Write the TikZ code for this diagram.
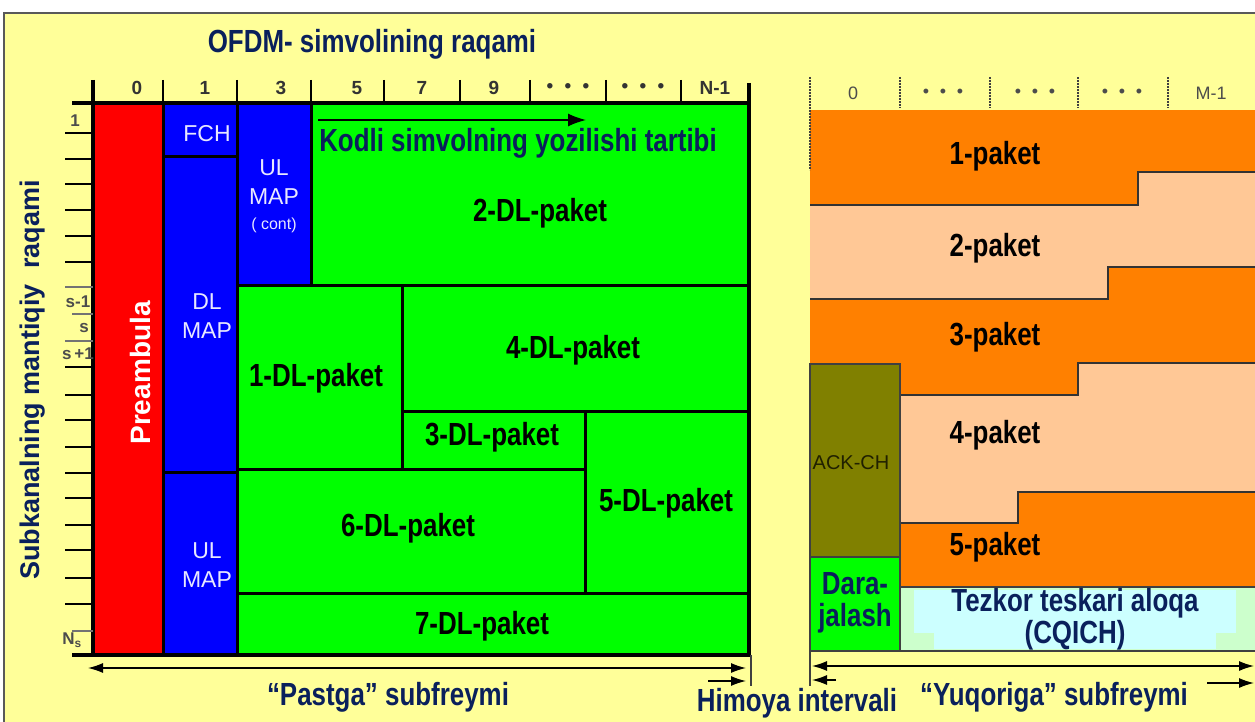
\documentclass[tikz,border=0pt]{standalone}
\usepackage{fontspec}
\setmainfont{Liberation Sans}
\newfontfamily\narrowsans[FakeStretch=0.81]{Liberation Sans}
\usetikzlibrary{arrows.meta}
\definecolor{bgyellow}{RGB}{255,255,153}
\definecolor{txtnavy}{RGB}{10,32,92}
\definecolor{prered}{RGB}{255,0,0}
\definecolor{mapblue}{RGB}{0,0,255}
\definecolor{maptext}{RGB}{232,232,255}
\definecolor{dlgreen}{RGB}{0,255,0}
\definecolor{pktorange}{RGB}{255,128,0}
\definecolor{pktpeach}{RGB}{255,200,150}
\definecolor{ackolive}{RGB}{128,128,0}
\definecolor{cqgreen}{RGB}{204,255,204}
\definecolor{cqcyan}{RGB}{204,255,255}
\newcommand{\tridots}{\textbullet\hspace{0.6em}\textbullet\hspace{0.6em}\textbullet}

\begin{document}
\begin{tikzpicture}[x=1pt, y=-1pt, >={Latex[length=15pt,width=10pt]},
  pkt/.style={font=\narrowsans\bfseries\fontsize{32}{32}\selectfont, text=black, align=center},
  navytxt/.style={pkt, text=txtnavy},
  maptxt/.style={font=\fontsize{23}{29}\selectfont, text=maptext, align=center},
  hdr/.style={font=\bfseries\fontsize{19}{19}\selectfont, text=black!80},
  rhdr/.style={font=\fontsize{18}{18}\selectfont, text=black!70},
  ticklbl/.style={font=\bfseries\fontsize{17}{17}\selectfont, text=black!70},
  tickln/.style={line width=1.5pt},
  blk/.style={draw=black, line width=3pt},
  stepln/.style={draw=black!80, line width=1.6pt},
  thinln/.style={draw=black!75, line width=1.2pt}]
\clip (0,0) rectangle (1255,722);
\fill[white] (0,0) rectangle (1255,722);
\draw[fill=bgyellow, draw=gray!70!black, line width=2pt] (4,13) rectangle (1275,745);

% --- downlink subframe ---
\node[navytxt] (title) at (372,44) {OFDM- simvolining raqami};
\draw[blk, fill=prered] (93,103) rectangle (163,655);
\draw[blk, fill=mapblue] (163,103) rectangle (237,157);
\draw[blk, fill=mapblue] (163,157) rectangle (237,472);
\draw[blk, fill=mapblue] (163,472) rectangle (237,655);
\draw[blk, fill=mapblue] (237,103) rectangle (311,285);
\draw[blk, fill=dlgreen] (311,103) rectangle (749,285);
\draw[blk, fill=dlgreen] (237,285) rectangle (402,469);
\draw[blk, fill=dlgreen] (402,285) rectangle (749,411);
\draw[blk, fill=dlgreen] (402,411) rectangle (585,469);
\draw[blk, fill=dlgreen] (585,411) rectangle (749,593);
\draw[blk, fill=dlgreen] (237,469) rectangle (585,593);
\draw[blk, fill=dlgreen] (237,593) rectangle (749,655);

\node[rotate=90, font=\bfseries\fontsize{28}{28}\selectfont, text=white] (prelbl) at (140,373) {Preambula};
\node[maptxt] (fch) at (207,134) {FCH};
\node[maptxt] (dlmap) at (207,316) {DL\\MAP};
\node[maptxt] (ulmap) at (207,565) {UL\\MAP};
\node[maptxt] (ulcont) at (274,196) {UL\\MAP\\[-4pt]{\fontsize{16}{18}\selectfont( cont)}};
\node[pkt] (dl2) at (540,213) {2-DL-paket};
\node[pkt] (dl1) at (316,378) {1-DL-paket};
\node[pkt] (dl4) at (573,350) {4-DL-paket};
\node[pkt] (dl3) at (492,437) {3-DL-paket};
\node[pkt] (dl5) at (666,503) {5-DL-paket};
\node[pkt] (dl6) at (408,528) {6-DL-paket};
\node[pkt] (dl7) at (482,626) {7-DL-paket};

\coordinate (ordS) at (318,120);
\coordinate (ordE) at (586,120);
\draw[-{Latex[length=18pt,width=13pt]}, line width=1.5pt] (ordS) -- (ordE);
\node[navytxt] (order) at (518,143) {Kodli simvolning yozilishi tartibi};

% axes of the downlink part
\draw[line width=3.5pt] (93,80) -- (93,657);
\draw[line width=3.5pt] (749,83) -- (749,657);
\draw[line width=3.5pt] (72,103) -- (751,103);
\draw[line width=3.5pt] (72,655) -- (751,655);
\foreach \x in {163,237,311,384,460,530,606,681}
  \draw[tickln] (\x,80) -- (\x,103);
\foreach \x/\t [count=\i] in {137/0,205/1,281/3,357/5,422/7,494/9,568/\tridots,643/\tridots,715/N-1}
  \node[hdr] (hd\i) at (\x,88) {\t};
\foreach \y in {133,159,184,210,236,262,367,395,420,447,473,498,525,550,578,604}
  \draw[tickln] (65,\y) -- (93,\y);
\draw[tickln, black!55] (65,287) -- (93,287);
\draw[tickln, black!55] (72,314) -- (93,314);
\draw[tickln, black!55] (65,341) -- (93,341);
\draw[tickln, black!55] (72,631) -- (93,631);
\node[ticklbl] (t1) at (75,121) {1};
\node[ticklbl] (tsm) at (78,302) {s-1};
\node[ticklbl] (ts) at (84,328) {s};
\node[ticklbl] (tsp) at (78,354) {s\,+1};
\node[ticklbl] (tns) at (72,640) {N\textsubscript{s}};
\node[rotate=90, font=\bfseries\fontsize{27}{27}\selectfont, text=txtnavy] (yaxis) at (33,380) {Subkanalning mantiqiy\ \ raqami};

% --- uplink subframe ---
\fill[pktorange] (810,110) rectangle (1260,587);
\fill[pktpeach] (810,205) -- (1138,205) -- (1138,172) -- (1260,172) -- (1260,267)
  -- (1108,267) -- (1108,299) -- (810,299) -- cycle;
\fill[pktpeach] (900,395) -- (1078,395) -- (1078,363) -- (1260,363) -- (1260,492)
  -- (1018,492) -- (1018,523) -- (900,523) -- cycle;
\draw[stepln] (810,205) -- (1138,205) -- (1138,172) -- (1260,172);
\draw[stepln] (810,299) -- (1108,299) -- (1108,267) -- (1260,267);
\draw[stepln] (900,395) -- (1078,395) -- (1078,363) -- (1260,363);
\draw[stepln] (900,523) -- (1018,523) -- (1018,492) -- (1260,492);
\draw[stepln] (900,587) -- (1260,587);
\draw[thinln, fill=ackolive] (810,364) rectangle (900,557);
\draw[thinln, fill=dlgreen] (810,557) rectangle (900,651);
\draw[thinln, fill=cqgreen] (900,587) rectangle (1262,651);
\fill[cqcyan] (914,590) rectangle (1236,633);
\fill[cqcyan] (934,633) rectangle (1216,649);
\draw[thinln] (810,651) -- (1260,651);

\node[pkt] (ul1) at (995,156) {1-paket};
\node[pkt] (ul2) at (995,248) {2-paket};
\node[pkt] (ul3) at (995,337) {3-paket};
\node[pkt] (ul4) at (995,435) {4-paket};
\node[pkt] (ul5) at (995,547) {5-paket};
\node[font=\fontsize{20}{20}\selectfont, text=black!75!ackolive] (ack) at (851,463) {ACK-CH};
\node[navytxt] (rng) at (855,603) {Dara-\\jalash};
\node[navytxt] (cqich) at (1075,619) {Tezkor teskari aloqa\\(CQICH)};

\draw[thinln, dash pattern=on 2pt off 1pt] (810,77) -- (810,170);
\foreach \x in {900,990,1078,1168}
  \draw[thinln, dash pattern=on 2pt off 1pt] (\x,77) -- (\x,108);
\foreach \x/\t [count=\i] in {853/0,943/\tridots,1035/\tridots,1122/\tridots,1211/M-1}
  \node[rhdr] (rh\i) at (\x,93) {\t};

% --- subframe spans and guard interval ---
\coordinate (dlL) at (88,668);
\coordinate (dlR) at (746,668);
\coordinate (gL0) at (708,681);
\coordinate (gL1) at (746,681);
\coordinate (ulL) at (812,666);
\coordinate (ulR) at (1254,666);
\coordinate (gR0) at (836,680);
\coordinate (gR1) at (812,680);
\coordinate (nx0) at (1207,683);
\coordinate (nx1) at (1254,683);
\draw[<->, line width=1.3pt] (dlL) -- (dlR);
\draw[->, line width=1.3pt] (gL0) -- (gL1);
\draw[<->, line width=1.3pt] (ulL) -- (ulR);
\draw[->, line width=1.3pt] (gR0) -- (gR1);
\draw[->, line width=1.3pt] (nx0) -- (nx1);
\draw[thinln] (751,655) -- (751,686);
\draw[thinln] (810,651) -- (810,686);

\node[navytxt] (dlsub) at (388,697) {“Pastga” subfreymi};
\node[navytxt] (guard) at (797,703) {Himoya intervali};
\node[navytxt] (ulsub) at (1054,697) {“Yuqoriga” subfreymi};
\end{tikzpicture}
\end{document}
